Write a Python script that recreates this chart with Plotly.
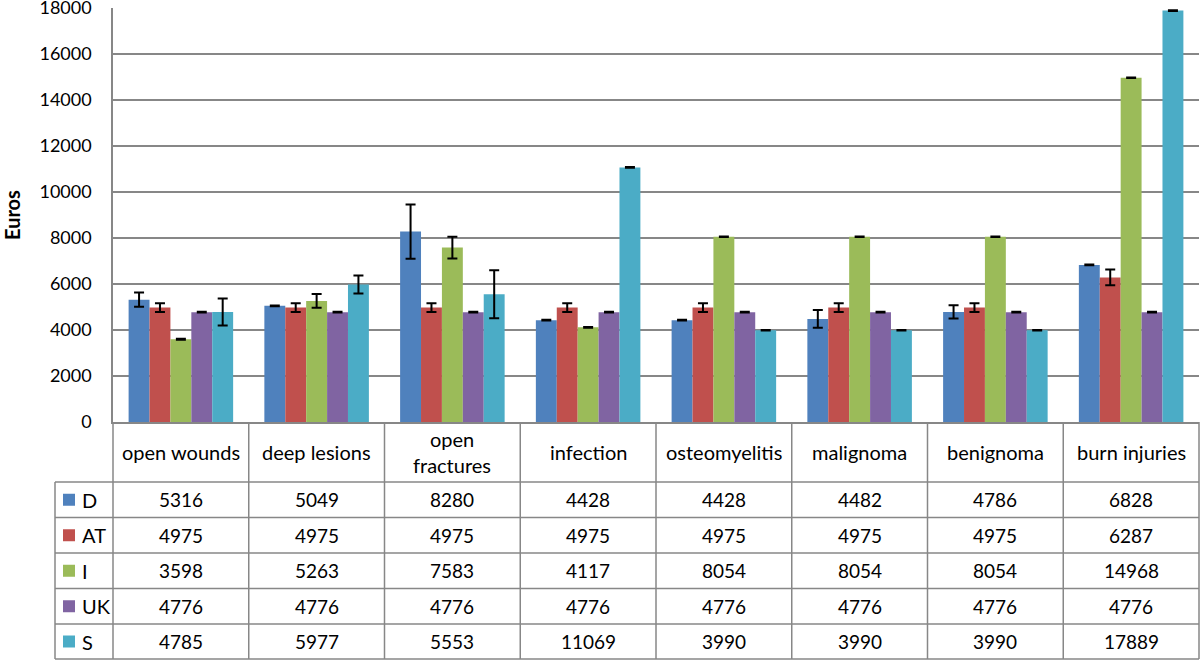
import plotly.graph_objects as go

categories = ["open wounds", "deep lesions", "open fractures", "infection",
              "osteomyelitis", "malignoma", "benignoma", "burn injuries"]
header_labels = ["open wounds", "deep lesions", "open<br>fractures", "infection",
                 "osteomyelitis", "malignoma", "benignoma", "burn injuries"]
series_names = ["D", "AT", "I", "UK", "S"]

D_vals = [5316, 5049, 8280, 4428, 4428, 4482, 4786, 6828]
AT_vals = [4975, 4975, 4975, 4975, 4975, 4975, 4975, 6287]
I_vals = [3598, 5263, 7583, 4117, 8054, 8054, 8054, 14968]
UK_vals = [4776, 4776, 4776, 4776, 4776, 4776, 4776, 4776]
S_vals = [4785, 5977, 5553, 11069, 3990, 3990, 3990, 17889]

D_err = [310, 20, 1180, 15, 15, 385, 285, 15]
AT_err = [190, 190, 190, 190, 190, 190, 190, 340]
I_err = [20, 300, 470, 15, 15, 15, 15, 15]
UK_err = [15, 15, 15, 15, 15, 15, 15, 15]
S_err = [590, 390, 1040, 15, 15, 15, 15, 15]

y_ticks = [0, 2000, 4000, 6000, 8000, 10000, 12000, 14000, 16000, 18000]

values = [D_vals, AT_vals, I_vals, UK_vals, S_vals]
errors = [D_err, AT_err, I_err, UK_err, S_err]
colors = ["#4F81BD", "#C0504D", "#9BBB59", "#8064A2", "#4BACC6"]

FONT = "Lato"
W, H = 1200, 661
L, R, T, B = 113, 1199, 8, 422
GRID = "#878787"


def py(p):
    return (B - p) / (B - T)


def px(p):
    return (p - L) / (R - L)


fig = go.Figure()
for name, vals, errs, col in zip(series_names, values, errors, colors):
    fig.add_trace(go.Bar(
        name=name, x=categories, y=vals, marker_color=col,
        marker_line_width=0,
        error_y=dict(type="data", array=errs, visible=True, color="black",
                     thickness=2, width=5),
    ))

shapes = []
line = dict(color=GRID, width=1.5)
row_lines = [482, 517.5, 553, 588.5, 624, 659]
TL = 55
for yl in row_lines:
    shapes.append(dict(type="line", xref="paper", yref="paper",
                       x0=px(TL), x1=px(R), y0=py(yl), y1=py(yl), line=line))
shapes.append(dict(type="line", xref="paper", yref="paper",
                   x0=px(TL), x1=px(TL), y0=py(482), y1=py(659), line=line))
n = len(categories)
for i in range(n + 1):
    xl = L + i * (R - L) / n
    shapes.append(dict(type="line", xref="paper", yref="paper",
                       x0=px(xl), x1=px(xl), y0=py(B), y1=py(659), line=line))

annotations = []
row_centers = [(a + b) / 2 for a, b in zip(row_lines[:-1], row_lines[1:])]
for name, col, yc in zip(series_names, colors, row_centers):
    shapes.append(dict(type="rect", xref="paper", yref="paper",
                       x0=px(63), x1=px(75), y0=py(yc - 6), y1=py(yc + 6),
                       fillcolor=col, line=dict(width=0)))
    annotations.append(dict(text=name, xref="paper", yref="paper",
                            x=px(80), y=py(yc), xanchor="left", yanchor="middle",
                            showarrow=False, font=dict(family=FONT, size=20, color="black")))

for cat, lab in zip(categories, header_labels):
    annotations.append(dict(text=lab, xref="x", yref="paper", x=cat, y=py(452),
                            xanchor="center", yanchor="middle", showarrow=False,
                            font=dict(family=FONT, size=20, color="black")))
for vals, yc in zip(values, row_centers):
    for cat, v in zip(categories, vals):
        annotations.append(dict(text=str(v), xref="x", yref="paper", x=cat, y=py(yc),
                                xanchor="center", yanchor="middle", showarrow=False,
                                font=dict(family=FONT, size=19, color="black")))

annotations.append(dict(text="<b>Euros</b>", xref="paper", yref="paper",
                        x=px(12), y=py(215), xanchor="center", yanchor="middle",
                        textangle=-90, showarrow=False,
                        font=dict(family=FONT, size=20, color="black")))

fig.update_layout(
    width=W, height=H,
    margin=dict(l=L, r=W - R, t=T, b=H - B, pad=0),
    paper_bgcolor="white", plot_bgcolor="white",
    barmode="group", bargap=0.23, bargroupgap=0,
    showlegend=False,
    font=dict(family=FONT, size=18, color="black"),
    shapes=shapes, annotations=annotations,
    xaxis=dict(range=[-0.5, n - 0.5], showticklabels=False, ticks="",
               showgrid=False, showline=True, linecolor=GRID, linewidth=1.5,
               zeroline=False, fixedrange=True, automargin=False),
    yaxis=dict(range=[0, 18000], tickvals=y_ticks, tickformat="d",
               showgrid=True, gridcolor=GRID, gridwidth=1.5,
               showline=True, linecolor=GRID, linewidth=1.5,
               zeroline=False, ticks="", ticklabelstandoff=16, automargin=False,
               ticklabeloverflow="allow", fixedrange=True,
               tickfont=dict(family=FONT, size=18, color="black")),
)

fig.write_html("out.html", config={"displayModeBar": False},
               post_script="document.body.style.margin='0';document.body.style.overflow='hidden';")
